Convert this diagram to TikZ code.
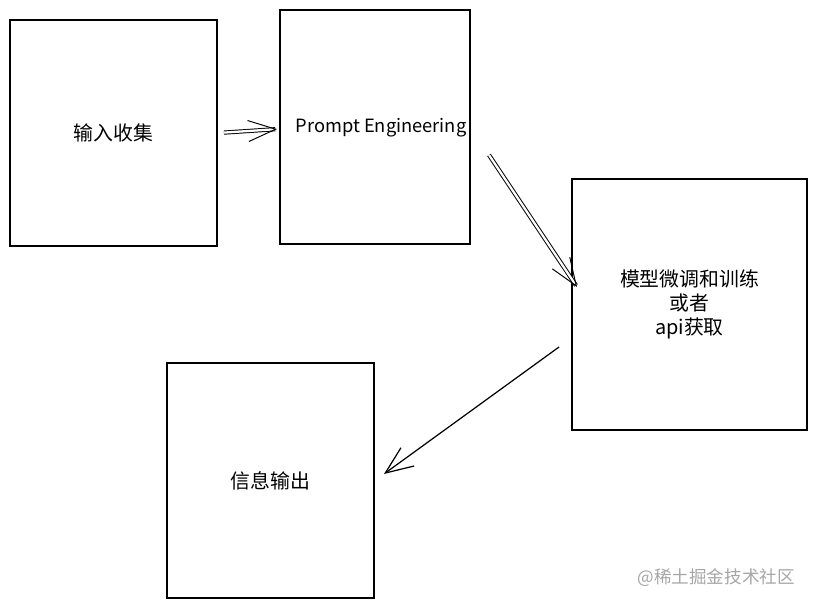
\documentclass[tikz,border=0pt]{standalone}
\usepackage{fontspec}
\newfontfamily\cjk{Noto Sans CJK SC}
\usetikzlibrary{arrows.meta}

\tikzset{
  stagebox/.style={draw, line width=1.1pt, font=\cjk\fontsize{11.3}{13.8}\selectfont, align=center, inner sep=0pt},
  flowarrow/.style={line width=0.7pt, -{Straight Barb[length=0.55cm, width=0.45cm, line width=0.7pt]}},
  twinarrow/.style={double, double distance=1.3pt, line width=0.55pt, -{Straight Barb[length=0.55cm, width=0.42cm]}}
}

\begin{document}
\begin{tikzpicture}
  \useasboundingbox (0,0) rectangle (16.36,12.16);
  % four stages
  \node[stagebox, minimum width=4.14cm, minimum height=4.52cm] (collect) at (2.27,9.5) {输入收集};
  \node[stagebox, minimum width=3.8cm, minimum height=4.68cm] (prompt) at (7.5,9.62) {};
  \node[font=\cjk\fontsize{10.4}{12}\selectfont] (prompttext) at (7.62,9.6) {Prompt Engineering};
  \node[stagebox, minimum width=4.7cm, minimum height=5.02cm] (model) at (13.79,6.07) {模型微调和训练\\或者\\api获取};
  \node[stagebox, minimum width=4.14cm, minimum height=4.7cm] (output) at (5.41,2.55) {信息输出};
  % connectors
  \draw[twinarrow, shorten <=0.12cm, shorten >=0.04cm] (collect.east) -- ([yshift=-0.04cm]prompt.west);
  \draw[twinarrow] ([xshift=0.36cm, yshift=-0.56cm]prompt.east) -- ([xshift=0.12cm, yshift=0.35cm]model.west);
  \draw[flowarrow] ([xshift=-0.24cm, yshift=-0.85cm]model.west) -- ([xshift=0.18cm, yshift=0.13cm]output.east);
  % watermark
  \node[font=\cjk\fontsize{10}{12}\selectfont, text=black!35, anchor=east] (mark) at (16.02,0.6) {@稀土掘金技术社区};
\end{tikzpicture}
\end{document}
